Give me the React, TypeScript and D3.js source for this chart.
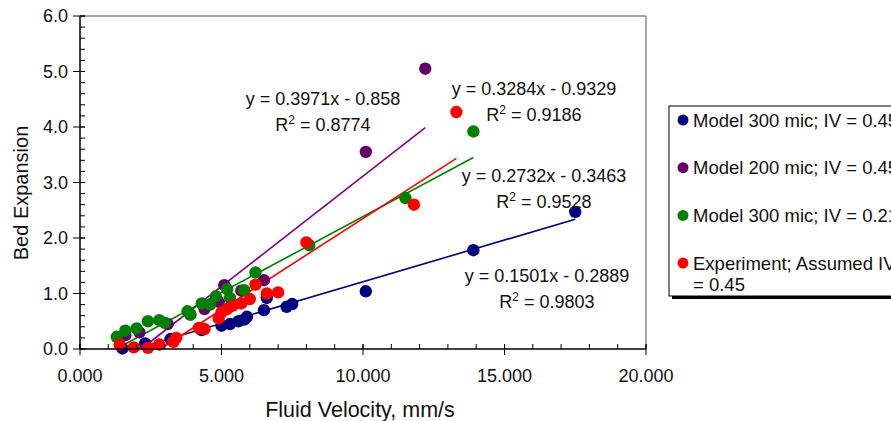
import React from "react";
import * as d3 from "d3";

// Model 300 mic; IV = 0.45
const navyX = [1.5, 2.3, 3.2, 4.3, 5.0, 5.3, 5.6, 5.8, 5.9, 6.5, 6.6, 7.3, 7.5, 10.1, 13.9, 17.5];
const navyY = [0.01, 0.1, 0.18, 0.34, 0.42, 0.45, 0.5, 0.53, 0.58, 0.7, 0.92, 0.76, 0.81, 1.04, 1.78, 2.47];

// Model 200 mic; IV = 0.45
const purpleX = [1.6, 2.1, 3.1, 3.9, 4.4, 4.9, 5.1, 5.7, 6.5, 10.1, 12.2];
const purpleY = [0.25, 0.3, 0.45, 0.62, 0.72, 0.85, 1.15, 1.05, 1.24, 3.55, 5.05];

// Model 300 mic; IV = 0.21
const greenX = [1.3, 1.6, 2.0, 2.4, 2.8, 3.0, 3.8, 3.9, 4.3, 4.6, 4.8, 5.2, 5.3, 5.8, 6.2, 8.1, 11.5, 13.9];
const greenY = [0.22, 0.33, 0.37, 0.5, 0.52, 0.47, 0.68, 0.62, 0.82, 0.8, 0.95, 1.08, 0.92, 1.06, 1.38, 1.87, 2.72, 3.92];

// Experiment; Assumed IV = 0.45
const redX = [1.4, 1.9, 2.4, 2.8, 3.3, 3.4, 4.2, 4.4, 4.9, 5.0, 5.2, 5.4, 5.7, 6.0, 6.2, 6.6, 7.0, 8.0, 11.8, 13.3];
const redY = [0.08, 0.03, 0.02, 0.08, 0.13, 0.2, 0.38, 0.36, 0.55, 0.66, 0.72, 0.78, 0.82, 0.9, 1.16, 1.0, 1.02, 1.92, 2.6, 4.27];

const seriesNames = [
  "Model 300 mic; IV = 0.45",
  "Model 200 mic; IV = 0.45",
  "Model 300 mic; IV = 0.21",
  "Experiment; Assumed IV",
];
const slopes = [0.1501, 0.3971, 0.2732, 0.3284];
const intercepts = [-0.2889, -0.858, -0.3463, -0.9329];
const rSquared = ["0.9803", "0.8774", "0.9528", "0.9186"];
const eqLabels = ["y = 0.1501x - 0.2889", "y = 0.3971x - 0.858", "y = 0.2732x - 0.3463", "y = 0.3284x - 0.9329"];

const xTicks = [0, 5, 10, 15, 20];
const yTicks = [0, 1, 2, 3, 4, 5, 6];

const FONT = "'Liberation Sans', Arial, sans-serif";

export default function App() {
  const x = d3.scaleLinear().domain([0, 20]).range([80, 646]);
  const y = d3.scaleLinear().domain([0, 6]).range([349, 16]);

  const series = [
    { xs: navyX, ys: navyY, dot: "#000080", line: "#000080" },
    { xs: purpleX, ys: purpleY, dot: "#660066", line: "#800080" },
    { xs: greenX, ys: greenY, dot: "#008000", line: "#008000" },
    { xs: redX, ys: redY, dot: "#ff0000", line: "#ff0000" },
  ];

  // where each equation label sits (center x, baseline y)
  const labelPos = [
    [547, 282],
    [323, 105],
    [544, 182],
    [534, 95],
  ];

  const minorX = d3.range(0, 20.01, 1);
  const minorY = d3.range(0, 6.01, 0.2);
  const line = d3.line<number>().x((d) => x(d[0])).y((d) => y(d[1]));

  return (
    <svg
      width={891}
      height={421}
      style={{ position: "absolute", left: 0, top: 0, background: "#fff" }}
      fontFamily={FONT}
    >
      {/* plot frame */}
      <line x1={x(0)} x2={x(20)} y1={y(6)} y2={y(6)} stroke="#888" strokeWidth={1.5} />
      <line x1={x(20)} x2={x(20)} y1={y(6)} y2={y(0)} stroke="#888" strokeWidth={1.5} />

      {/* trend lines, clipped at the x axis like the original */}
      {series.map((s, i) => {
        const lo = Math.max(d3.min(s.xs)!, -intercepts[i] / slopes[i]);
        const hi = d3.max(s.xs)!;
        const pts: any = [lo, hi].map((v) => [v, slopes[i] * v + intercepts[i]]);
        return <path key={"t" + i} d={line(pts) || ""} stroke={s.line} strokeWidth={1.6} fill="none" />;
      })}

      {/* markers */}
      {series.map((s, i) => (
        <g key={"s" + i}>
          {s.xs.map((v, j) => (
            <circle key={j} cx={x(v)} cy={y(s.ys[j])} r={6.2} fill={s.dot} />
          ))}
        </g>
      ))}

      {/* axes */}
      <line x1={x(0)} x2={x(0)} y1={y(6)} y2={y(0)} stroke="#000" strokeWidth={1.5} />
      <line x1={x(0)} x2={x(20)} y1={y(0)} y2={y(0)} stroke="#000" strokeWidth={1.5} />
      {minorY.map((v, i) => (
        <line key={"my" + i} x1={x(0)} x2={x(0) + 5} y1={y(v)} y2={y(v)} stroke="#000" />
      ))}
      {yTicks.map((v) => (
        <g key={"y" + v}>
          <line x1={x(0) - 7} x2={x(0) + 5} y1={y(v)} y2={y(v)} stroke="#000" />
          <text x={68} y={y(v)} dy="0.36em" textAnchor="end" fontSize={18} fill="#111">
            {d3.format(".1f")(v)}
          </text>
        </g>
      ))}
      {minorX.map((v, i) => (
        <line key={"mx" + i} x1={x(v)} x2={x(v)} y1={y(0) - 5} y2={y(0)} stroke="#000" />
      ))}
      {xTicks.map((v) => (
        <g key={"x" + v}>
          <line x1={x(v)} x2={x(v)} y1={y(0) - 5} y2={y(0) + 6} stroke="#000" />
          <text x={x(v)} y={382} textAnchor="middle" fontSize={18} fill="#111">
            {d3.format(".3f")(v)}
          </text>
        </g>
      ))}

      <text x={360} y={417} textAnchor="middle" fontSize={21.5} fill="#111">
        Fluid Velocity, mm/s
      </text>
      <text transform="translate(28,193) rotate(-90)" textAnchor="middle" fontSize={20} fill="#111">
        Bed Expansion
      </text>

      {/* equations */}
      {eqLabels.map((t, i) => (
        <g key={"e" + i} fontSize={18} fill="#111">
          <text x={labelPos[i][0]} y={labelPos[i][1]} textAnchor="middle">
            {t}
          </text>
          <text x={labelPos[i][0]} y={labelPos[i][1] + 26} textAnchor="middle">
            R<tspan dy={-7} fontSize={12}>2</tspan>
            <tspan dy={7}>{" = " + rSquared[i]}</tspan>
          </text>
        </g>
      ))}

      {/* legend */}
      <rect x={672} y={109} width={240} height={190} fill="#000" />
      <rect x={669} y={106} width={240} height={190} fill="#fff" stroke="#000" strokeWidth={1} />
      {seriesNames.map((n, i) => (
        <g key={"l" + i}>
          <circle cx={683} cy={120 + i * 47.7} r={5.5} fill={series[i].dot} />
          <text x={693} y={120 + i * 47.7} dy="0.36em" fontSize={18.5} fill="#111">
            {n}
          </text>
        </g>
      ))}
      <text x={693} y={284} dy="0.36em" fontSize={18.5} fill="#111">
        = 0.45
      </text>
    </svg>
  );
}
